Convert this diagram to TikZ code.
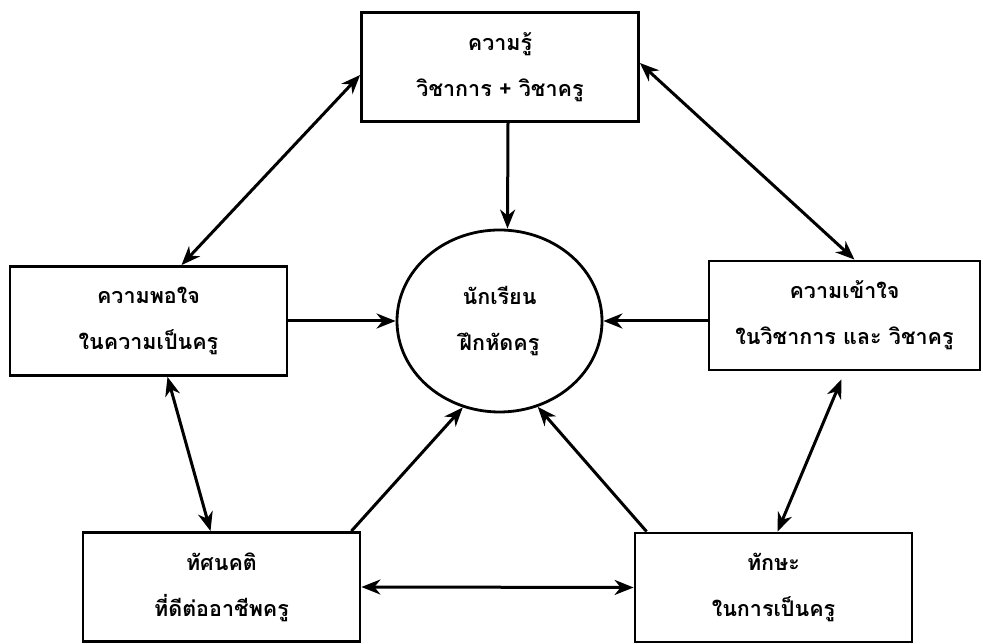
\documentclass[tikz,border=0pt]{standalone}
\usepackage{fontspec}
\newfontfamily\thaifont[Script=Thai]{Loma}
\usetikzlibrary{arrows.meta,shapes.geometric}
\tikzset{every node/.style={draw,line width=2.8pt,inner sep=0pt,align=center,
    font=\thaifont\bfseries\fontsize{21.5}{46}\selectfont},
  box/.style={rectangle,minimum width=277pt,minimum height=109pt},
  link/.style={line width=3pt,-{Stealth[length=19pt,width=15pt,inset=6pt]}},
  twoway/.style={line width=3pt,{Stealth[length=19pt,width=15pt,inset=6pt]}-{Stealth[length=19pt,width=15pt,inset=6pt]}}}

\begin{document}
\begin{tikzpicture}[x=1pt,y=1pt]
  \useasboundingbox (0,0) rectangle (983,644);
      \node[box] (know) at (500,577) {ความรู้\\วิชาการ + วิชาครู};
      \node[box] (satis) at (148.5,323) {ความพอใจ\\ในความเป็นครู};
      \node[box,minimum width=271pt] (underst) at (844.5,328.5) {ความเข้าใจ\\ในวิชาการ และ วิชาครู};
      \node[box] (attit) at (221.5,57) {ทัศนคติ\\ที่ดีต่ออาชีพครู};
      \node[box] (skill) at (773.5,56.5) {ทักษะ\\ในการเป็นครู};
      \node[ellipse,minimum width=205pt,minimum height=182pt] (student) at (499.5,323) {นักเรียน\\ฝึกหัดครู};

      \coordinate (k1) at ([yshift=-8pt]know.west);
      \coordinate (k2) at ([yshift=4pt]know.east);
      \coordinate (k3) at ([xshift=8pt]know.south);
      \coordinate (s0) at ([xshift=8pt]student.north);
      \coordinate (p1) at ([xshift=33pt]satis.north);
      \coordinate (p2) at ([xshift=19pt]satis.south);
      \coordinate (u1) at ([xshift=10pt]underst.north);
      \coordinate (u2) at ([xshift=-3pt,yshift=-8pt]underst.south);
      \coordinate (u3) at (underst.west |- student.east);
      \coordinate (a1) at ([xshift=-11pt]attit.north);
      \coordinate (a2) at ([xshift=-10pt]attit.north east);
      \coordinate (t1) at ([xshift=4pt]skill.north);
      \coordinate (t2) at ([xshift=13pt]skill.north west);

\foreach \a/\b in {k3/s0,satis.east/student.west,u3/student.east,a2/student.247,t2/student.294}
  \draw[link] (\a) -- (\b);
\foreach \a/\b in {k1/p1,k2/u1,p2/a1,u2/t1,attit.east/skill.west}
  \draw[twoway] (\a) -- (\b);
    \end{tikzpicture}
\end{document}
